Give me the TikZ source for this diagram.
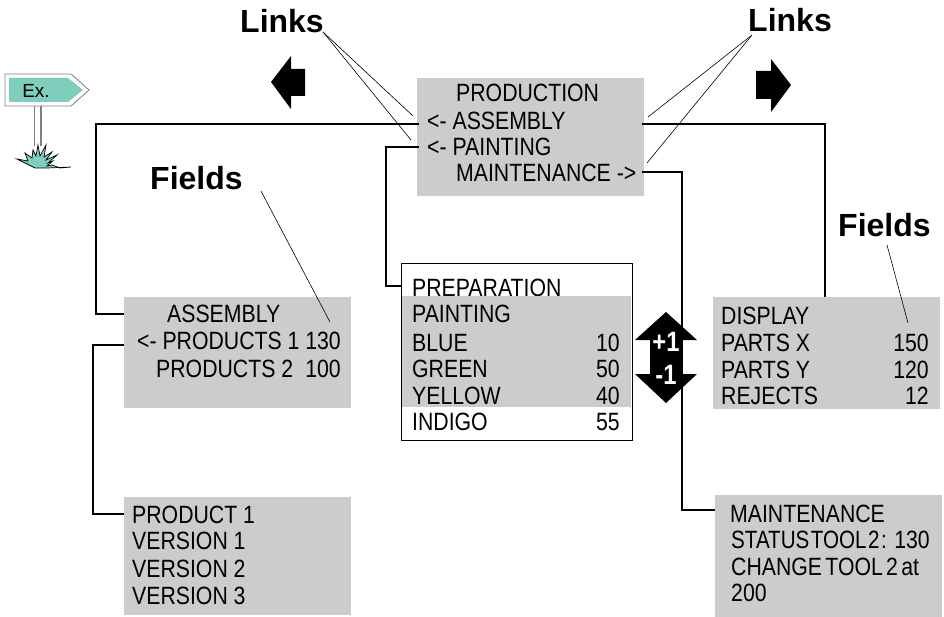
\documentclass[tikz,border=0pt]{standalone}
\usepackage{fontspec}
\setmainfont[FakeStretch=0.85]{Liberation Sans}
\newfontfamily\labelfont{Liberation Sans}
\tikzset{
  greybox/.style={fill=boxgrey,draw=none,inner sep=0pt,anchor=north west},
  txt/.style={anchor=base west,inner sep=0pt,font=\fontsize{25}{25}\selectfont},
  num/.style={anchor=base east,inner sep=0pt,font=\fontsize{25}{25}\selectfont},
  heading/.style={anchor=base west,inner sep=0pt,font=\labelfont\bfseries\fontsize{32}{32}\selectfont},
  badge/.style={anchor=center,inner sep=0pt,text=white,font=\bfseries\fontsize{28}{28}\selectfont},
  link/.style={line width=2pt,black},
  leader/.style={line width=0.6pt,black},
}
\definecolor{boxgrey}{HTML}{CCCCCC}
\definecolor{signteal}{HTML}{7FCDBB}
\begin{document}
\begin{tikzpicture}[x=1pt,y=-1pt]
  \useasboundingbox (0,0) rectangle (944,617);
  % boxes
  \node[greybox,minimum width=227pt,minimum height=118pt] (production) at (417,78) {};
  \node[greybox,minimum width=227pt,minimum height=111pt] (assembly) at (124,297) {};
  \node[greybox,minimum width=227pt,minimum height=118pt] (product) at (124,497) {};
  \node[greybox,minimum width=227pt,minimum height=112pt] (display) at (713,297) {};
  \node[greybox,minimum width=227pt,minimum height=122pt] (maintenance) at (715,495) {};
  \node[draw=black,line width=0.8pt,anchor=north west,inner sep=0pt,minimum width=231pt,minimum height=177pt] (painting) at (401,263) {};
  \node[txt] (prep) at (412,297) {PREPARATION};
  \node[greybox,minimum width=229pt,minimum height=111pt] (paintgrey) at (402,296) {};
  % texts
  \node[txt] (prodA) at (456,102) {PRODUCTION};
  \node[txt] (prodB) at (427,130) {<- ASSEMBLY};
  \node[txt] (prodC) at (427,156) {<- PAINTING};
  \node[txt] (prodD) at (456,182) {MAINTENANCE ->};
  \node[txt] (asmA) at (167,323) {ASSEMBLY};
  \node[txt] (asmB) at (137,349) {<- PRODUCTS 1};
  \node[num] (asmBv) at (341,349) {130};
  \node[txt] (asmC) at (156,377) {PRODUCTS 2};
  \node[num] (asmCv) at (341,377) {100};
  \foreach \n/\y/\t in {a/523/PRODUCT 1,b/549/VERSION 1,c/577/VERSION 2,d/604/VERSION 3}
    \node[txt] (product\n) at (132,\y) {\t};
  \foreach \n/\y/\t/\v in {a/351/BLUE/10,b/377/GREEN/50,c/404/YELLOW/40,d/430/INDIGO/55} {
    \node[txt] (paint\n) at (412,\y) {\t};
    \node[num] (paintv\n) at (620,\y) {\v};
  }
  \node[txt] (paintt) at (412,323) {PAINTING};
  \node[txt] (dispt) at (721,324) {DISPLAY};
  \foreach \n/\y/\t/\v in {a/351/PARTS X/150,b/378/PARTS Y/120,c/404/REJECTS/12} {
    \node[txt] (disp\n) at (721,\y) {\t};
    \node[num] (dispv\n) at (929,\y) {\v};
  }
  \node[txt] (mainta) at (730,522) {MAINTENANCE};
  \node[txt,xscale=0.97,transform shape] (maintb) at (731,548) {\spaceskip=1.5pt STATUS TOOL 2 :};
  \node[num] (maintbv) at (930,548) {130};
  \node[txt] (maintc) at (731,575) {\spaceskip=3.3pt CHANGE TOOL 2 at};
  \node[txt] (maintd) at (731,601) {200};
  % headings
  \node[heading] (linksL) at (240,33) {Links};
  \node[heading] (linksR) at (748,32) {Links};
  \node[heading] (fieldsL) at (150,190) {Fields};
  \node[heading] (fieldsR) at (838,237) {Fields};
  % connectors
  \coordinate (prodOutA) at (419,124);
  \coordinate (prodOutB) at (642,124);
  \coordinate (prodOutC) at (419,147);
  \coordinate (prodOutD) at (642,172);
  \coordinate (asmIn) at (124,314);
  \coordinate (paintIn) at (401,286);
  \coordinate (asmOut) at (124,345);
  \coordinate (productIn) at (124,514);
  \coordinate (maintIn) at (715,510);
  \draw[link] (prodOutA) -- (96,124) -- (96,314) -- (asmIn);
  \draw[link] (prodOutB) -| (825,297);
  \draw[link] (prodOutC) -- (386,147) -- (386,286) -- (paintIn);
  \draw[link] (asmOut) -- (93,345) -- (93,514) -- (productIn);
  % leaders
  \coordinate (lL) at (323,32);
  \coordinate (lR) at (752,35);
  \draw[leader] (lL) -- (413,116);
  \draw[leader] (lL) -- (411,140);
  \draw[leader] (lR) -- (648,117);
  \draw[leader] (lR) -- (647,163);
  \draw[leader] (261,191) -- (330,322);
  \draw[leader] (887,245) -- (908,323);
  % big arrows
  \fill[black] (271,82) -- (291,56) -- (291,69) -- (305,69) -- (305,96) -- (291,96) -- (291,109) -- cycle;
  \fill[black] (791,85) -- (771,59) -- (771,71) -- (756,71) -- (756,99) -- (771,99) -- (771,112) -- cycle;
  \fill[black] (666,312) -- (697,340) -- (682,340) -- (682,374) -- (697,374) -- (666,403) -- (635,374) -- (650,374) -- (650,340) -- (635,340) -- cycle;
  \draw[link] (prodOutD) -- (682,172) -- (682,510) -- (maintIn);
  \node[badge] (plusone) at (666,342) {+1};
  \node[badge] (minusone) at (666,375) {-1};
  % sign
  \draw[gray,line width=0.8pt] (34,106) -- (34,146);
  \draw[gray,line width=1.5pt] (41,106) -- (41,146);
  \draw[gray,line width=0.8pt,fill=white] (5,74) -- (71,74) -- (89,90) -- (71,106) -- (5,106) -- cycle;
  \fill[signteal] (9,78) -- (68,78) -- (83,90) -- (68,102) -- (9,102) -- cycle;
  \node[anchor=center,inner sep=0pt,font=\labelfont\fontsize{19}{19}\selectfont] (ex) at (36,91) {Ex.};
  \draw[black,line width=0.7pt,fill=signteal,line join=miter] (35,168) -- (17,159) -- (28,161) -- (25,153) -- (32,158) -- (33,150) -- (36,156) -- (38,145) -- (40,156) -- (46,145) -- (44,157) -- (52,152) -- (46,160) -- (57,155) -- (48,163) -- (53,161) -- (47,166) -- (52,165) -- (60,168) -- (71,167) -- (47,168) -- cycle;
\end{tikzpicture}
\end{document}
